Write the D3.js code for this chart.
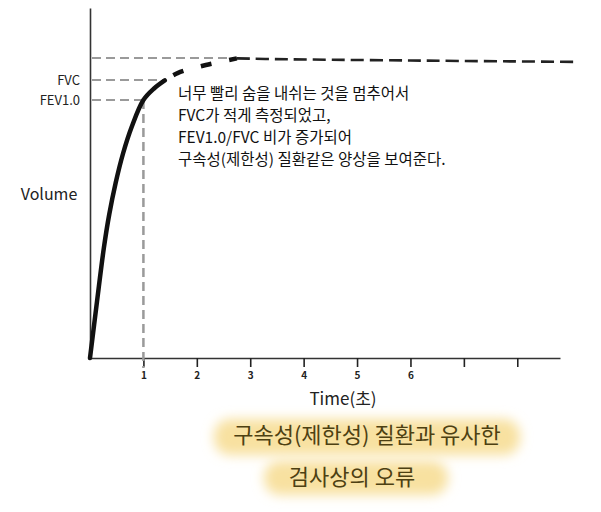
<!DOCTYPE html>
<html><head><meta charset="utf-8">
<script src="https://cdn.jsdelivr.net/npm/d3@7"></script>
<style>
body{margin:0;background:#fff;}
text{font-family:"Noto Sans CJK KR","Noto Sans",sans-serif;}
</style></head>
<body><svg id="c" width="601" height="512"></svg>
<script>
// ---- data ----
const solidTime = [0, 0.13, 0.26, 0.36, 0.48, 0.62, 0.78, 1.0, 1.2, 1.4];
const solidVol  = [0, 16, 31.5, 41, 50, 58.5, 66, 73.7, 77, 79.3];
const dashTime  = [1.4, 1.64, 2.17, 2.75];
const dashVol   = [79.3, 81.4, 83.7, 85.6];
const flatTime  = [2.75, 3.46, 6.0, 9.1];
const flatVol   = [85.6, 85.4, 85.0, 84.6];
const fvc = 79.4, fev1 = 73.7, maxVol = 85.7, fvcTime = 1.4, fev1Time = 1, maxTime = 2.8;
const xTicks = [1,2,3,4,5,6,7,8];
const xTickLabels = ["1","2","3","4","5","6","",""];
const yLabels = ["FVC","FEV1.0"];
const noteLines = ["너무 빨리 숨을 내쉬는 것을 멈추어서","FVC가 적게 측정되었고,","FEV1.0/FVC 비가 증가되어","구속성(제한성) 질환같은 양상을 보여준다."];
const titleLines = ["구속성(제한성) 질환과 유사한","검사상의 오류"];

const svg = d3.select("#c");
const x = d3.scaleLinear().domain([0, 8.8]).range([90, 560]);
const y = d3.scaleLinear().domain([0, 100]).range([358, 8]);

const defs = svg.append("defs");
defs.append("filter").attr("id","blur").attr("x","-20%").attr("y","-50%").attr("width","140%").attr("height","200%")
  .append("feGaussianBlur").attr("stdDeviation",6);

// axes
const xa = svg.append("g").attr("transform",`translate(0,${y(0)})`)
  .call(d3.axisBottom(x).tickValues(xTicks).tickFormat((d,i)=>xTickLabels[i]).tickSize(9).tickSizeOuter(0).tickPadding(5));
xa.select(".domain").attr("stroke","#333").attr("stroke-width",1.6);
xa.selectAll(".tick line").attr("stroke","#222").attr("stroke-width",1.6);
xa.selectAll(".tick text").attr("font-size",10).attr("font-weight","bold").attr("fill","#222");
const ya = svg.append("g").attr("transform",`translate(${x(0)},0)`)
  .call(d3.axisLeft(y).tickValues([]).tickSizeOuter(0));
ya.select(".domain").attr("stroke","#333").attr("stroke-width",1.6);

// gray reference lines
const gray = "#9a9a9a";
function hdash(v, t){
  svg.append("line").attr("x1",x(0)+2).attr("x2",x(t)).attr("y1",y(v)).attr("y2",y(v))
    .attr("stroke",gray).attr("stroke-width",2).attr("stroke-dasharray","9,5");
}
hdash(maxVol, maxTime);
hdash(fvc, fvcTime);
hdash(fev1, fev1Time);
svg.append("line").attr("x1",x(fev1Time)).attr("x2",x(fev1Time)).attr("y1",y(fev1)).attr("y2",y(0)+10)
  .attr("stroke",gray).attr("stroke-width",2.5).attr("stroke-dasharray","9,5");

// curves
const line = d3.line().x(d=>x(d[0])).y(d=>y(d[1])).curve(d3.curveCatmullRom.alpha(0.5));
svg.append("path").datum(solidTime.map((t,i)=>[t,solidVol[i]])).attr("d",line)
  .attr("fill","none").attr("stroke","#111").attr("stroke-width",4.5).attr("stroke-linecap","round");
svg.append("path").datum(dashTime.map((t,i)=>[t,dashVol[i]])).attr("d",line)
  .attr("fill","none").attr("stroke","#111").attr("stroke-width",4.5).attr("stroke-dasharray","0,10,11,8");
svg.append("path").datum(flatTime.map((t,i)=>[t,flatVol[i]])).attr("d",line)
  .attr("fill","none").attr("stroke","#222").attr("stroke-width",2.6).attr("stroke-dasharray","13,6");

// y labels
svg.append("text").attr("x",80).attr("y",y(fvc)+5).attr("text-anchor","end").attr("font-size",13).attr("fill","#222").text(yLabels[0]);
svg.append("text").attr("x",80).attr("y",y(fev1)+5).attr("text-anchor","end").attr("font-size",13).attr("fill","#222").text(yLabels[1]);
svg.append("text").attr("x",49).attr("y",200).attr("text-anchor","middle").attr("font-size",16).attr("fill","#222").text("Volume");
svg.append("text").attr("x",343).attr("y",405).attr("text-anchor","middle").attr("font-size",17).attr("fill","#222").text("Time(초)");

// note
svg.append("g").selectAll("text").data(noteLines).join("text")
  .attr("x",178).attr("y",(d,i)=>99+i*22).attr("font-size",15.5).attr("fill","#111").text(d=>d);

// highlighted title
const hl = svg.append("g");
hl.append("rect").attr("x",214).attr("y",419).attr("width",306).attr("height",36).attr("rx",16)
  .attr("fill","#f8e1a0").attr("filter","url(#blur)");
hl.append("rect").attr("x",264).attr("y",461).attr("width",184).attr("height",34).attr("rx",16)
  .attr("fill","#f8e1a0").attr("filter","url(#blur)");
hl.selectAll("text").data(titleLines).join("text")
  .attr("x",(d,i)=>i===0?367:352).attr("y",(d,i)=>443+i*42).attr("text-anchor","middle")
  .attr("font-size",22).attr("fill","#4d4012").text(d=>d);
</script></body></html>
